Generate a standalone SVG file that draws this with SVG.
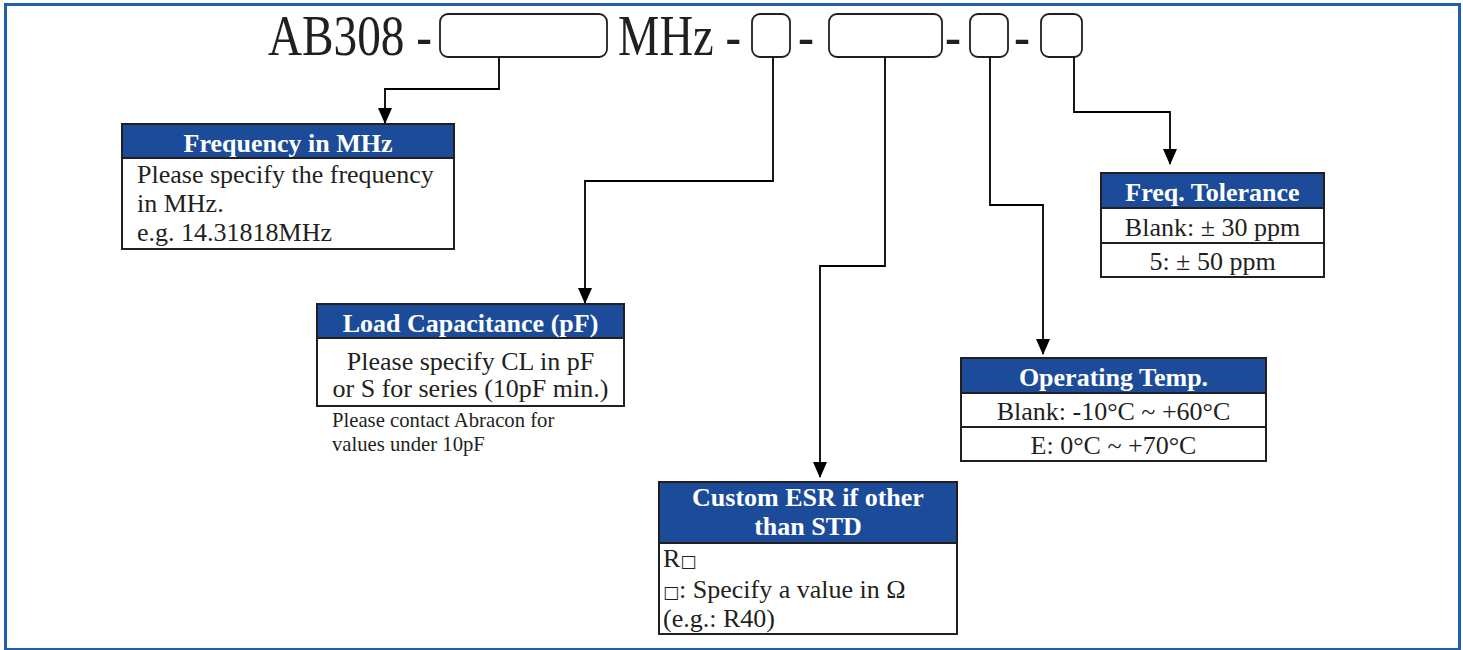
<svg xmlns="http://www.w3.org/2000/svg" width="1463" height="650" viewBox="0 0 1463 650">
<style>
  .frame{fill:none;stroke:#1f5fad;stroke-width:3}
  .pbox{fill:#fff;stroke:#231f20;stroke-width:1.8}
  .hdr{fill:#1c4c99}
  .nb{fill:none;stroke:#231f20;stroke-width:2}
  .sep{stroke:#231f20;stroke-width:2}
  .big{font-family:"Liberation Serif","Times New Roman",serif;font-size:56px;fill:#231f20}
  .ht{font-family:"Liberation Serif","Times New Roman",serif;font-size:26px;font-weight:bold;fill:#fff;text-anchor:middle}
  .bt{font-family:"Liberation Serif","Times New Roman","DejaVu Serif",serif;font-size:26px;fill:#231f20}
  .c{text-anchor:middle}
  .nt{font-family:"Liberation Serif","Times New Roman",serif;font-size:20.7px;fill:#231f20}
  .sq{font-family:"DejaVu Sans",sans-serif;font-size:17px}
  .conn{fill:none;stroke:#000;stroke-width:1.8}
</style>
<defs>
  <marker id="arr" markerUnits="userSpaceOnUse" markerWidth="16" markerHeight="14" refX="15" refY="7" orient="auto" viewBox="0 0 16 14">
    <path d="M0,0 L16,7 L0,14 z" fill="#000"/>
  </marker>
</defs>
<rect class="frame" x="5.5" y="4.5" width="1454" height="645"/>

<g id="part-number">
  <text class="big" x="268" y="55" textLength="164" lengthAdjust="spacingAndGlyphs">AB308 -</text>
  <rect class="pbox" x="440" y="14" width="167" height="43" rx="8"/>
  <text class="big" x="618" y="55" textLength="123" lengthAdjust="spacingAndGlyphs">MHz -</text>
  <rect class="pbox" x="752" y="14" width="38" height="43" rx="8"/>
  <text class="big" x="798" y="55" textLength="16" lengthAdjust="spacingAndGlyphs">-</text>
  <rect class="pbox" x="829" y="14" width="113" height="43" rx="8"/>
  <text class="big" x="945" y="55" textLength="16" lengthAdjust="spacingAndGlyphs">-</text>
  <rect class="pbox" x="970" y="14" width="38" height="43" rx="8"/>
  <text class="big" x="1014" y="55" textLength="16" lengthAdjust="spacingAndGlyphs">-</text>
  <rect class="pbox" x="1041" y="14" width="41" height="43" rx="8"/>
</g>

<g id="connectors">
  <polyline class="conn" points="499,57 499,89 385,89 385,123" marker-end="url(#arr)"/>
  <polyline class="conn" points="773,57 773,181 585,181 585,303" marker-end="url(#arr)"/>
  <polyline class="conn" points="885,57 885,266 820,266 820,477" marker-end="url(#arr)"/>
  <polyline class="conn" points="990,57 990,205 1043,205 1043,354" marker-end="url(#arr)"/>
  <polyline class="conn" points="1074,57 1074,112 1170,112 1170,164" marker-end="url(#arr)"/>
</g>

<g id="node-frequency">
  <rect class="hdr" x="122" y="124" width="332" height="34"/>
  <rect class="nb" x="122" y="124" width="332" height="125"/>
  <line class="sep" x1="122" y1="158" x2="454" y2="158"/>
  <text class="ht" x="288" y="152">Frequency in MHz</text>
  <text class="bt" x="137" y="183">Please specify the frequency</text>
  <text class="bt" x="137" y="212">in MHz.</text>
  <text class="bt" x="137" y="241">e.g. 14.31818MHz</text>
</g>

<g id="node-load">
  <rect class="hdr" x="317" y="304" width="307" height="34"/>
  <rect class="nb" x="317" y="304" width="307" height="102"/>
  <line class="sep" x1="317" y1="338" x2="624" y2="338"/>
  <text class="ht" x="470.5" y="332">Load Capacitance (pF)</text>
  <text class="bt c" x="470.5" y="370">Please specify CL in pF</text>
  <text class="bt c" x="470.5" y="397">or S for series (10pF min.)</text>
  <text class="nt" x="332" y="427">Please contact Abracon for</text>
  <text class="nt" x="332" y="451">values under 10pF</text>
</g>

<g id="node-esr">
  <rect class="hdr" x="659" y="482" width="298" height="61"/>
  <rect class="nb" x="659" y="482" width="298" height="152"/>
  <line class="sep" x1="659" y1="543" x2="957" y2="543"/>
  <text class="ht" x="808" y="506">Custom ESR if other</text>
  <text class="ht" x="808" y="535">than STD</text>
  <text class="bt" x="663" y="567">R<tspan class="sq">□</tspan></text>
  <text class="bt" x="663" y="598"><tspan class="sq">□</tspan>: Specify a value in Ω</text>
  <text class="bt" x="663" y="627">(e.g.: R40)</text>
</g>

<g id="node-temp">
  <rect class="hdr" x="961" y="358" width="305" height="35"/>
  <rect class="nb" x="961" y="358" width="305" height="103"/>
  <line class="sep" x1="961" y1="393" x2="1266" y2="393"/>
  <line class="sep" x1="961" y1="427" x2="1266" y2="427"/>
  <text class="ht" x="1113.5" y="386">Operating Temp.</text>
  <text class="bt c" x="1113.5" y="420">Blank: -10°C ~ +60°C</text>
  <text class="bt c" x="1113.5" y="454">E: 0°C ~ +70°C</text>
</g>

<g id="node-tolerance">
  <rect class="hdr" x="1101" y="173" width="223" height="35"/>
  <rect class="nb" x="1101" y="173" width="223" height="104"/>
  <line class="sep" x1="1101" y1="208" x2="1324" y2="208"/>
  <line class="sep" x1="1101" y1="243" x2="1324" y2="243"/>
  <text class="ht" x="1212.5" y="201">Freq. Tolerance</text>
  <text class="bt c" x="1212.5" y="236">Blank: ± 30 ppm</text>
  <text class="bt c" x="1212.5" y="270">5: ± 50 ppm</text>
</g>
</svg>
